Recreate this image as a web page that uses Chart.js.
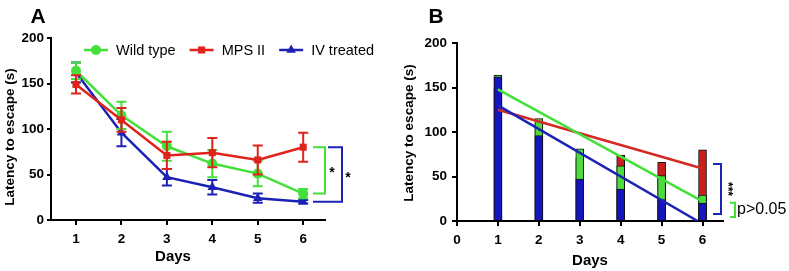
<!DOCTYPE html>
<html>
<head>
<meta charset="utf-8">
<script src="https://cdn.jsdelivr.net/npm/chart.js@4.4.0/dist/chart.umd.min.js"></script>
<style>
  html, body { margin: 0; padding: 0; background: #fff; }
  #wrap { position: relative; width: 789px; height: 271px; }
  canvas { position: absolute; top: 0; }
  #chartA { left: 0; }
  #chartB { left: 400px; }
</style>
</head>
<body>
<div id="wrap">
  <canvas id="chartA" width="400" height="271"></canvas>
  <canvas id="chartB" width="389" height="271"></canvas>
</div>
<script>
// valores (média ± EPM)
const days = [1, 2, 3, 4, 5, 6];
const wildType = [164, 115, 81, 62, 51, 29];
const wildTypeErr = [9, 15, 16, 15, 14, 5];
const mpsII = [149, 110, 71, 74, 66, 80];
const mpsIIErr = [10, 13, 15, 16, 16, 16];
const ivTreated = [162, 96, 47, 36, 24, 20];
const ivTreatedErr = [11, 15, 9, 8, 5, 2];
const yTicks = [0, 50, 100, 150, 200];
const xTicksB = [0, 1, 2, 3, 4, 5, 6];

// retas de regressão do painel B (extremos)
const fitWildType = [{ x: 1, y: 148 }, { x: 6, y: 22 }];
const fitMpsII = [{ x: 1, y: 125 }, { x: 6, y: 59 }];
const fitIvTreated = [{ x: 1, y: 130 }, { x: 5.88, y: 0 }];

const GREEN = "#44e03a";
const RED = "#e0221c";
const BLUE = "#1b22b4";
const BAR_BLUE = "#1515bf";
const BAR_GREEN = "#4cdc3c";
const BAR_RED = "#cc1d1d";
const FONT = '"Liberation Sans", Arial, sans-serif';

Chart.defaults.font.family = FONT;
Chart.defaults.color = "#000";

const pts = arr => days.map((d, i) => ({ x: d, y: arr[i] }));

// barras de erro desenhadas antes de cada série
const errorBars = {
  id: "errorBars",
  beforeDatasetDraw(chart, args) {
    const ds = chart.data.datasets[args.index];
    if (!ds.errors) return;
    const y = chart.scales.y;
    const ctx = chart.ctx;
    ctx.save();
    ctx.strokeStyle = ds.borderColor;
    ctx.lineWidth = 2;
    args.meta.data.forEach((pt, i) => {
      const v = ds.data[i].y;
      const top = y.getPixelForValue(v + ds.errors[i]);
      const bot = y.getPixelForValue(v - ds.errors[i]);
      ctx.beginPath();
      ctx.moveTo(pt.x, top); ctx.lineTo(pt.x, bot);
      ctx.moveTo(pt.x - 5, top); ctx.lineTo(pt.x + 5, top);
      ctx.moveTo(pt.x - 5, bot); ctx.lineTo(pt.x + 5, bot);
      ctx.stroke();
    });
    ctx.restore();
  }
};

// textos fixos: letra do painel e títulos dos eixos
function textsPlugin(o) {
  return {
    id: "texts",
    afterDraw(chart) {
      const ctx = chart.ctx;
      ctx.save();
      ctx.fillStyle = "#000";
      ctx.textAlign = "center";
      ctx.textBaseline = "middle";
      ctx.font = "bold 21px " + FONT;
      ctx.fillText(o.letter, o.letterX, 17);
      ctx.font = "bold 15px " + FONT;
      ctx.fillText("Days", o.daysX, o.daysY);
      ctx.translate(o.yTitleX, o.yTitleY);
      ctx.rotate(-Math.PI / 2);
      ctx.font = "bold 13.5px " + FONT;
      ctx.fillText("Latency to escape (s)", 0, 0);
      ctx.restore();
    }
  };
}

function bracket(ctx, y, x1, x2, v1, v2, color, x1b) {
  ctx.strokeStyle = color;
  ctx.lineWidth = 2;
  ctx.beginPath();
  ctx.moveTo(x1, y.getPixelForValue(v1));
  ctx.lineTo(x2, y.getPixelForValue(v1));
  ctx.lineTo(x2, y.getPixelForValue(v2));
  ctx.lineTo(x1b === undefined ? x1 : x1b, y.getPixelForValue(v2));
  ctx.stroke();
}

// legenda do painel A
const legendA = {
  id: "legendA",
  afterDraw(chart) {
    const ctx = chart.ctx;
    ctx.save();
    ctx.font = "14.5px " + FONT;
    ctx.textBaseline = "middle";
    ctx.textAlign = "left";
    let x = 84;
    const yc = 50;
    chart.data.datasets.slice().sort((a, b) => a.legendPos - b.legendPos).forEach(ds => {
      ctx.strokeStyle = ds.borderColor;
      ctx.lineWidth = 2.5;
      ctx.beginPath();
      ctx.moveTo(x, yc); ctx.lineTo(x + 24, yc);
      ctx.stroke();
      ctx.fillStyle = ds.backgroundColor;
      Chart.helpers.drawPoint(ctx, { pointStyle: ds.pointStyle, radius: ds.pointRadius, rotation: 0, borderWidth: 0 }, x + 12, yc);
      ctx.fillStyle = "#000";
      ctx.fillText(ds.label, x + 32, yc + 1);
      x += 32 + ctx.measureText(ds.label).width + 14;
    });
    ctx.restore();
  }
};

const signifA = {
  id: "signifA",
  afterDraw(chart) {
    const ctx = chart.ctx;
    const y = chart.scales.y;
    const r = chart.chartArea.right;
    ctx.save();
    bracket(ctx, y, r - 12, r, mpsII[5], wildType[5], GREEN);
    bracket(ctx, y, r + 3, r + 17, mpsII[5], ivTreated[5], BLUE, r - 12);
    ctx.fillStyle = "#000";
    ctx.font = "bold 14px " + FONT;
    ctx.textAlign = "center";
    ctx.textBaseline = "alphabetic";
    ctx.fillText("*", r + 7, 177);
    ctx.fillText("*", r + 23, 182);
    ctx.restore();
  }
};

const signifB = {
  id: "signifB",
  afterDraw(chart) {
    const ctx = chart.ctx;
    const y = chart.scales.y;
    const r = chart.chartArea.right;
    ctx.save();
    bracket(ctx, y, r - 10, r - 2, 64, 8, BLUE);
    bracket(ctx, y, r + 7, r + 12, 20.5, 4.5, GREEN);
    ctx.fillStyle = "#000";
    ctx.font = "bold 12px " + FONT;
    ctx.textAlign = "center";
    ctx.textBaseline = "middle";
    ctx.save();
    ctx.translate(r + 4, y.getPixelForValue(36));
    ctx.rotate(Math.PI / 2);
    ctx.fillText("***", 0, 0);
    ctx.restore();
    ctx.font = "16px " + FONT;
    ctx.textAlign = "left";
    ctx.fillText("p>0.05", r + 14, 210);
    ctx.restore();
  }
};

const axisStyle = (tickLen, pad) => ({
  border: { display: true, color: "#000", width: 2 },
  grid: { display: true, drawOnChartArea: false, drawTicks: true, tickLength: tickLen, color: "#000", lineWidth: 2, offset: false },
  ticks: { color: "#000", padding: pad, autoSkip: false, maxRotation: 0, font: { size: 13.5, weight: "bold" } }
});

// Painel A
new Chart(document.getElementById("chartA"), {
  type: "line",
  data: {
    datasets: [
      { label: "MPS II", legendPos: 2, data: pts(mpsII), errors: mpsIIErr, borderColor: RED, backgroundColor: RED,
        pointStyle: "rect", pointRadius: 5, borderWidth: 2.5, pointBorderWidth: 0, order: 0 },
      { label: "Wild type", legendPos: 1, data: pts(wildType), errors: wildTypeErr, borderColor: GREEN, backgroundColor: GREEN,
        pointStyle: "circle", pointRadius: 5, borderWidth: 2.5, pointBorderWidth: 0, order: 1 },
      { label: "IV treated", legendPos: 3, data: pts(ivTreated), errors: ivTreatedErr, borderColor: BLUE, backgroundColor: BLUE,
        pointStyle: "triangle", pointRadius: 5.5, borderWidth: 2.5, pointBorderWidth: 0, order: 2 }
    ]
  },
  options: {
    responsive: false,
    animation: false,
    layout: { padding: { top: 38, right: 75, bottom: 0, left: 0 } },
    plugins: { legend: { display: false }, tooltip: { enabled: false } },
    scales: {
      x: Object.assign(axisStyle(5, 6), {
        type: "linear", min: 0.45, max: 6.48, offset: false,
        afterBuildTicks: s => { s.ticks = days.map(v => ({ value: v })); },
        afterFit: s => { s.height = 51; }
      }),
      y: Object.assign(axisStyle(4, 3), {
        min: 0, max: 200,
        afterBuildTicks: s => { s.ticks = yTicks.map(v => ({ value: v })); },
        afterFit: s => { s.width = 51; }
      })
    }
  },
  plugins: [errorBars, legendA, signifA,
    textsPlugin({ letter: "A", letterX: 38, daysX: 173, daysY: 257, yTitleX: 10, yTitleY: 137 })]
});

// Painel B
const barB = (label, arr, color, order) => ({
  type: "bar", label, data: pts(arr), backgroundColor: color, borderColor: "#111",
  borderWidth: 1, barThickness: 8, grouped: false, order
});
const fitB = (data, color) => ({
  type: "line", data, borderColor: color, borderWidth: 2.5, pointRadius: 0, order: 0
});

new Chart(document.getElementById("chartB"), {
  type: "bar",
  data: {
    datasets: [
      barB("IV treated", ivTreated, BAR_BLUE, 1),
      barB("Wild type", wildType, BAR_GREEN, 2),
      barB("MPS II", mpsII, BAR_RED, 3),
      fitB(fitWildType, GREEN),
      fitB(fitIvTreated, BLUE),
      fitB(fitMpsII, "#d42a24")
    ]
  },
  options: {
    responsive: false,
    animation: false,
    layout: { padding: { top: 43, right: 66, bottom: 0, left: 0 } },
    plugins: { legend: { display: false }, tooltip: { enabled: false } },
    scales: {
      x: Object.assign(axisStyle(5, 6), {
        type: "linear", min: 0, max: 6.5, offset: false,
        afterBuildTicks: s => { s.ticks = xTicksB.map(v => ({ value: v })); },
        afterFit: s => { s.height = 50; }
      }),
      y: Object.assign(axisStyle(5, 5), {
        min: 0, max: 200,
        afterBuildTicks: s => { s.ticks = yTicks.map(v => ({ value: v })); },
        afterFit: s => { s.width = 57; }
      })
    }
  },
  plugins: [signifB,
    textsPlugin({ letter: "B", letterX: 36, daysX: 190, daysY: 261, yTitleX: 9, yTitleY: 133 })]
});
</script>
</body>
</html>
